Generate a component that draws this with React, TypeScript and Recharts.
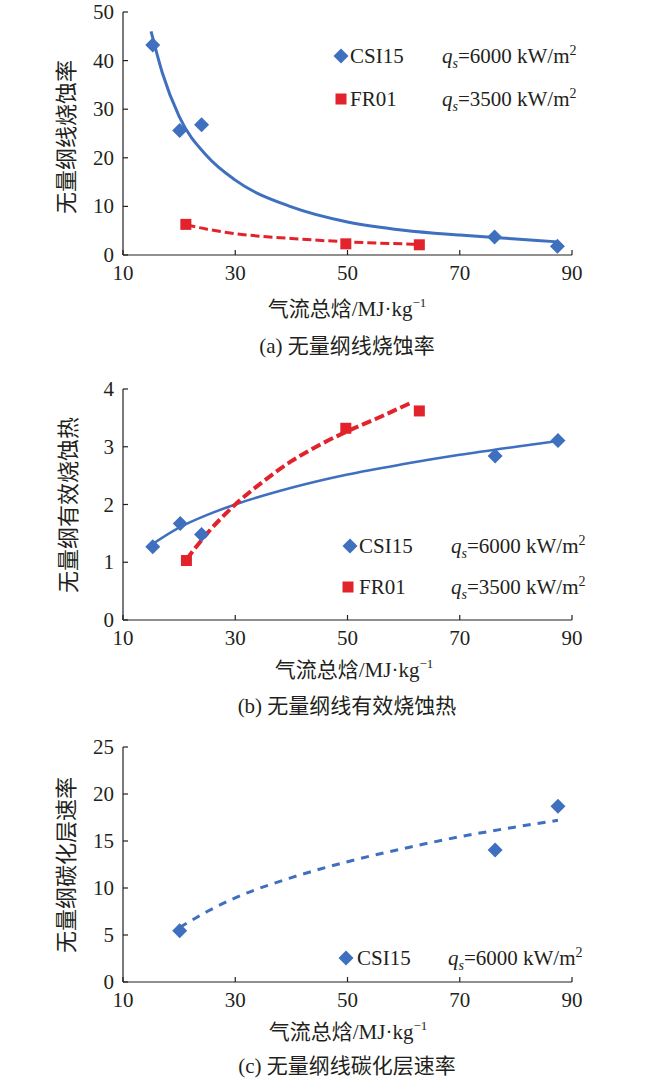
import { ComposedChart, Line, Scatter, XAxis, YAxis } from 'recharts';

const BLUE = '#3f6fbf';
const RED = '#e3232b';
const INK = '#231f20';
const SERIF = "'Liberation Serif', 'Times New Roman', 'Noto Sans CJK SC', serif";

const xTicks = [10, 30, 50, 70, 90];
const yTicksA = [0, 10, 20, 30, 40, 50];
const yTicksB = [0, 1, 2, 3, 4];
const yTicksC = [0, 5, 10, 15, 20, 25];

// (a) 无量纲线烧蚀率
const csiPointsA = [
  { x: 15.3, y: 43.2 },
  { x: 20.1, y: 25.6 },
  { x: 24.0, y: 26.8 },
  { x: 76.2, y: 3.7 },
  { x: 87.4, y: 1.8 },
];
const csiTrendA = [
  { x: 15, y: 46 },
  { x: 17, y: 37.5 },
  { x: 20, y: 28.5 },
  { x: 25, y: 20.3 },
  { x: 30, y: 15.4 },
  { x: 40, y: 9.9 },
  { x: 50, y: 6.8 },
  { x: 60, y: 5.1 },
  { x: 70, y: 4.1 },
  { x: 80, y: 3.3 },
  { x: 87.5, y: 2.7 },
];
const frPointsA = [
  { x: 21.2, y: 6.3 },
  { x: 49.7, y: 2.3 },
  { x: 62.8, y: 2.1 },
];
const frTrendA = [
  { x: 21.3, y: 6.2 },
  { x: 25, y: 5.3 },
  { x: 30, y: 4.4 },
  { x: 40, y: 3.4 },
  { x: 50, y: 2.7 },
  { x: 62.7, y: 2.2 },
];

// (b) 无量纲线有效烧蚀热
const csiPointsB = [
  { x: 15.3, y: 1.27 },
  { x: 20.2, y: 1.67 },
  { x: 24.0, y: 1.48 },
  { x: 76.3, y: 2.84 },
  { x: 87.5, y: 3.11 },
];
const csiTrendB = [
  { x: 15, y: 1.3 },
  { x: 20, y: 1.6 },
  { x: 25, y: 1.82 },
  { x: 30, y: 2.0 },
  { x: 40, y: 2.29 },
  { x: 50, y: 2.52 },
  { x: 60, y: 2.7 },
  { x: 70, y: 2.86 },
  { x: 80, y: 3.0 },
  { x: 87.5, y: 3.1 },
];
const frPointsB = [
  { x: 21.3, y: 1.03 },
  { x: 49.7, y: 3.32 },
  { x: 62.8, y: 3.62 },
];
const frTrendB = [
  { x: 21.3, y: 1.05 },
  { x: 25, y: 1.5 },
  { x: 30, y: 2.0 },
  { x: 35, y: 2.4 },
  { x: 40, y: 2.75 },
  { x: 45, y: 3.03 },
  { x: 50, y: 3.27 },
  { x: 55, y: 3.48 },
  { x: 61.5, y: 3.77 },
];

// (c) 无量纲线碳化层速率
const csiPointsC = [
  { x: 20.1, y: 5.45 },
  { x: 76.3, y: 14.05 },
  { x: 87.5, y: 18.7 },
];
const csiTrendC = [
  { x: 20.1, y: 5.8 },
  { x: 25, y: 7.5 },
  { x: 30, y: 8.95 },
  { x: 40, y: 11.1 },
  { x: 50, y: 12.8 },
  { x: 60, y: 14.2 },
  { x: 70, y: 15.45 },
  { x: 80, y: 16.5 },
  { x: 87.5, y: 17.2 },
];

const diamond = (props: any) => {
  const { cx, cy } = props;
  const r = 7.5;
  return <path d={`M${cx},${cy - r}L${cx + r},${cy}L${cx},${cy + r}L${cx - r},${cy}Z`} fill={BLUE} />;
};

const square = (props: any) => {
  const { cx, cy } = props;
  const r = 5.5;
  return <rect x={cx - r} y={cy - r} width={r * 2} height={r * 2} fill={RED} />;
};

const XTick = ({ x, y, payload }: any) => (
  <g>
    <line x1={x} x2={x} y1={y} y2={y - 5} stroke={INK} strokeWidth={1.2} />
    <text x={x} y={y + 25} textAnchor="middle" fontFamily={SERIF} fontSize={21} fill={INK}>
      {payload.value}
    </text>
  </g>
);

const YTick = ({ x, y, payload }: any) => (
  <g>
    <line x1={x} x2={x + 5} y1={y} y2={y} stroke={INK} strokeWidth={1.2} />
    <text x={x - 9} y={y + 7} textAnchor="end" fontFamily={SERIF} fontSize={21} fill={INK}>
      {payload.value}
    </text>
  </g>
);

const textStyle = { position: 'absolute' as const, fontFamily: SERIF, fontSize: 21, color: INK, whiteSpace: 'nowrap' as const, lineHeight: '24px' };

function Marker({ cx, cy, kind }: { cx: number; cy: number; kind: 'diamond' | 'square' }) {
  return (
    <svg style={{ position: 'absolute', left: cx - 8, top: cy - 8 }} width={16} height={16}>
      {kind === 'diamond' ? diamond({ cx: 8, cy: 8 }) : square({ cx: 8, cy: 8 })}
    </svg>
  );
}

function LegendRow({ cx, cy, kind, name, nameX, qX, q }: any) {
  return (
    <>
      <Marker cx={cx} cy={cy} kind={kind} />
      <div style={{ ...textStyle, left: nameX, top: cy - 12 }}>{name}</div>
      <div style={{ ...textStyle, left: qX, top: cy - 12 }}>
        <i>q</i>
        <i style={{ fontSize: 14, position: 'relative', top: 5 }}>s</i>={q} kW/m
        <span style={{ fontSize: 14, position: 'relative', top: -8 }}>2</span>
      </div>
    </>
  );
}

function Centered({ x, y, children, rotate }: any) {
  return (
    <div
      style={{
        ...textStyle,
        left: x,
        top: y,
        transform: `translate(-50%, -50%)${rotate ? ' rotate(-90deg)' : ''}`,
        fontSize: rotate ? 22 : 21,
      }}
    >
      {children}
    </div>
  );
}

const xTitle = (
  <>
    气流总焓/MJ·kg<span style={{ fontSize: 13, position: 'relative', top: -9 }}>−1</span>
  </>
);

function Panel({ top, height, plotTop, plotBottom, yDomain, yTicks, children }: any) {
  return (
    <div style={{ position: 'absolute', left: 0, top, width: 650, height }}>
      <ComposedChart
        width={650}
        height={height}
        margin={{ top: plotTop, right: 78, bottom: height - plotBottom - 30, left: 83 }}
      >
        <XAxis
          type="number"
          dataKey="x"
          domain={[10, 90]}
          ticks={xTicks}
          allowDataOverflow
          height={30}
          tickSize={0}
          tickMargin={0}
          tickLine={false}
          tick={<XTick />}
          axisLine={{ stroke: INK, strokeWidth: 1.2 }}
        />
        <YAxis
          type="number"
          dataKey="y"
          domain={yDomain}
          ticks={yTicks}
          allowDataOverflow
          width={40}
          tickSize={0}
          tickMargin={0}
          tickLine={false}
          tick={<YTick />}
          axisLine={{ stroke: INK, strokeWidth: 1.2 }}
        />
        {children}
      </ComposedChart>
    </div>
  );
}

export default function App() {
  return (
    <div style={{ position: 'absolute', left: 0, top: 0, width: 650, height: 1080, background: '#fff' }}>
      <Panel top={0} height={360} plotTop={12} plotBottom={255} yDomain={[0, 50]} yTicks={yTicksA}>
        <Line data={csiTrendA} dataKey="y" type="monotone" stroke={BLUE} strokeWidth={3} dot={false} isAnimationActive={false} />
        <Line data={frTrendA} dataKey="y" type="monotone" stroke={RED} strokeWidth={3} strokeDasharray="9 4" dot={false} isAnimationActive={false} />
        <Scatter data={csiPointsA} dataKey="y" shape={diamond} isAnimationActive={false} />
        <Scatter data={frPointsA} dataKey="y" shape={square} isAnimationActive={false} />
      </Panel>
      <LegendRow cx={341} cy={56} kind="diamond" name="CSI15" nameX={350} qX={442} q="6000" />
      <LegendRow cx={341} cy={99} kind="square" name="FR01" nameX={350} qX={442} q="3500" />
      <Centered x={67} y={137} rotate>无量纲线烧蚀率</Centered>
      <Centered x={347} y={310}>{xTitle}</Centered>
      <Centered x={347} y={346}>(a) 无量纲线烧蚀率</Centered>

      <Panel top={370} height={360} plotTop={19} plotBottom={250} yDomain={[0, 4]} yTicks={yTicksB}>
        <Line data={csiTrendB} dataKey="y" type="monotone" stroke={BLUE} strokeWidth={2.5} dot={false} isAnimationActive={false} />
        <Line data={frTrendB} dataKey="y" type="monotone" stroke={RED} strokeWidth={4} strokeDasharray="10 4" dot={false} isAnimationActive={false} />
        <Scatter data={csiPointsB} dataKey="y" shape={diamond} isAnimationActive={false} />
        <Scatter data={frPointsB} dataKey="y" shape={square} isAnimationActive={false} />
      </Panel>
      <LegendRow cx={350} cy={546} kind="diamond" name="CSI15" nameX={359} qX={451} q="6000" />
      <LegendRow cx={348} cy={587} kind="square" name="FR01" nameX={359} qX={451} q="3500" />
      <Centered x={69} y={505} rotate>无量纲有效烧蚀热</Centered>
      <Centered x={354} y={671}>{xTitle}</Centered>
      <Centered x={347} y={706}>(b) 无量纲线有效烧蚀热</Centered>

      <Panel top={730} height={350} plotTop={17} plotBottom={252} yDomain={[0, 25]} yTicks={yTicksC}>
        <Line data={csiTrendC} dataKey="y" type="monotone" stroke={BLUE} strokeWidth={3} strokeDasharray="8 7" dot={false} isAnimationActive={false} />
        <Scatter data={csiPointsC} dataKey="y" shape={diamond} isAnimationActive={false} />
      </Panel>
      <LegendRow cx={346} cy={958} kind="diamond" name="CSI15" nameX={357} qX={448} q="6000" />
      <Centered x={67} y={865} rotate>无量纲碳化层速率</Centered>
      <Centered x={348} y={1033}>{xTitle}</Centered>
      <Centered x={347} y={1066}>(c) 无量纲线碳化层速率</Centered>
    </div>
  );
}
